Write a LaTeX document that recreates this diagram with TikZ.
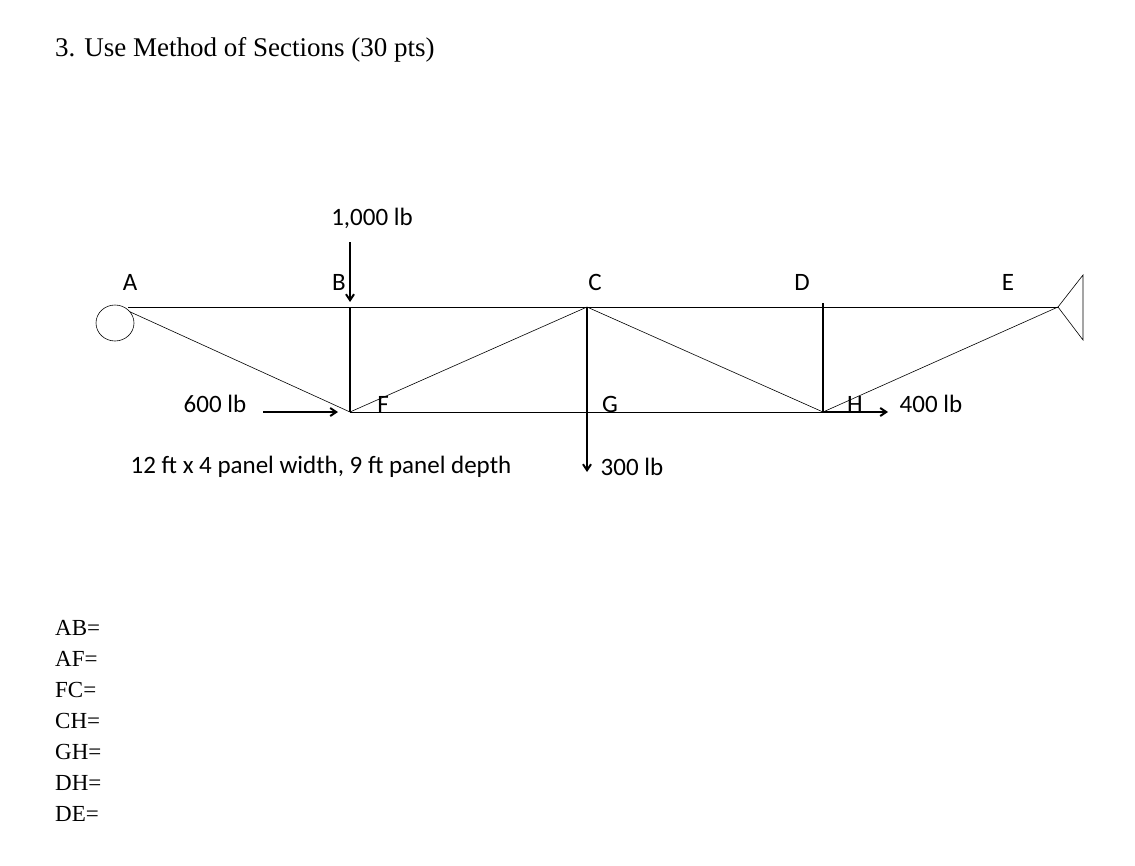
\documentclass[tikz,border=0pt]{standalone}
\usepackage{fontspec}
\setmainfont{Liberation Serif}
\newfontfamily\lab{Carlito}
\usetikzlibrary{arrows.meta}
\begin{document}
\begin{tikzpicture}[x=1pt,y=-1pt,
  mem/.style={line width=0.6pt},
  thk/.style={line width=2pt},
  ld/.style={line width=2pt,-{Straight Barb[length=6pt,width=8pt]}},
  lbl/.style={font=\lab\fontsize{25}{28}\selectfont,inner sep=0},
  ans/.style={font=\fontsize{23}{26}\selectfont,anchor=west,inner sep=0}]
\useasboundingbox[fill=white] (0,0) rectangle (1135,865);
\node[anchor=west,font=\fontsize{27}{30}\selectfont,inner sep=0] (title) at (55,50) {3. Use Method of Sections (30 pts)};
\coordinate (A) at (128,307); \coordinate (B) at (350,307); \coordinate (C) at (587,307);
\coordinate (D) at (823,307); \coordinate (E) at (1058,307);
\coordinate (F) at (350,412); \coordinate (G) at (587,412); \coordinate (H) at (823,412);
\draw[mem] (A) -- (E);
\draw[mem] (F) -- (H);
\draw[mem] (126,310) -- (F) -- (C) -- (H) -- (E);
\draw[mem,fill=white] (115,323) ellipse (19 and 18);
\draw[mem] (E) -- (1083,275) -- (1083,340) -- cycle;
\draw[thk] (B) -- (F);
\draw[thk] (D) ++(0,-4) -- (H);
\coordinate (c0) at (587,472);
\draw[ld] (C) -- (c0);
\coordinate (b0) at (350,242); \coordinate (b1) at (350,302);
\draw[ld] (b0) -- (b1);
\coordinate (f0) at (263,412); \coordinate (f1) at (338,412);
\draw[ld] (f0) -- (f1);
\coordinate (h1) at (888,412);
\draw[ld] (H) -- (h1);
\node[lbl] (lA) at (130,282) {A};
\node[lbl] (lB) at (339,282) {B};
\node[lbl] (lC) at (595,282) {C};
\node[lbl] (lD) at (802,282) {D};
\node[lbl] (lE) at (1008,282) {E};
\node[lbl] (lF) at (383,404) {F};
\node[lbl] (lG) at (610,404) {G};
\node[lbl] (lH) at (855,404) {H};
\node[lbl] (l1000) at (372,218) {1,000 lb};
\node[lbl] (l600) at (215,404) {600 lb};
\node[lbl] (l400) at (931,404) {400 lb};
\node[lbl] (l300) at (632,467) {300 lb};
\node[lbl] (note) at (321,467) {12 ft x 4 panel width, 9 ft panel depth};
\node[ans] (a1) at (55,628) {AB=};
\node[ans] (a2) at (55,659) {AF=};
\node[ans] (a3) at (55,690) {FC=};
\node[ans] (a4) at (55,721) {CH=};
\node[ans] (a5) at (55,752) {GH=};
\node[ans] (a6) at (55,783) {DH=};
\node[ans] (a7) at (55,814) {DE=};
\end{tikzpicture}
\end{document}
